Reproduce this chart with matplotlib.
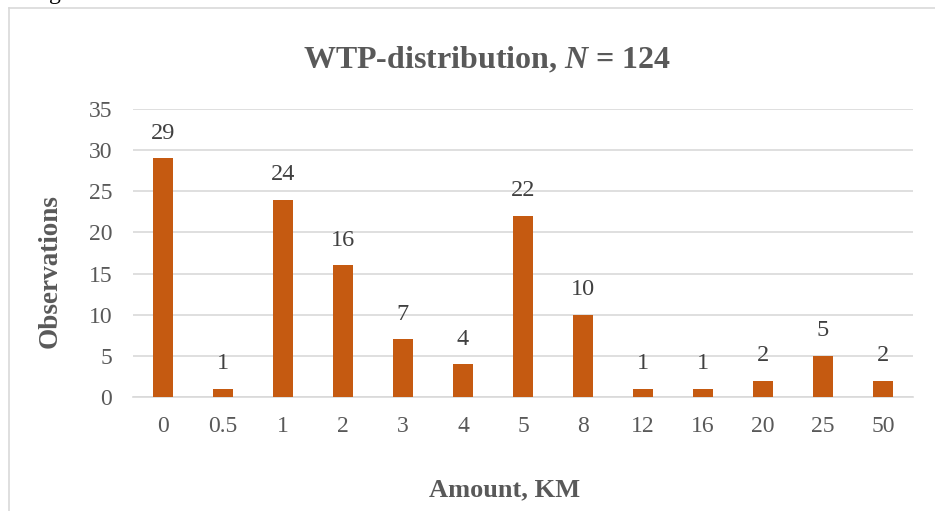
import matplotlib
matplotlib.use("Agg")
import matplotlib.pyplot as plt
from matplotlib.lines import Line2D

categories = ["0", "0.5", "1", "2", "3", "4", "5", "8", "12", "16", "20", "25", "50"]
observations = [29, 1, 24, 16, 7, 4, 22, 10, 1, 1, 2, 5, 2]
y_ticks = [0, 5, 10, 15, 20, 25, 30, 35]

plt.rcParams["font.family"] = ["Liberation Serif", "DejaVu Serif"]
plt.rcParams["mathtext.fontset"] = "custom"
plt.rcParams["mathtext.it"] = "Liberation Serif:italic:bold"
plt.rcParams["mathtext.rm"] = "Liberation Serif:bold"

W, H = 935, 511
fig = plt.figure(figsize=(W / 100, H / 100), dpi=100)
ax = fig.add_axes([133 / W, 1 - 397 / H, (913 - 133) / W, (397 - 109) / H])

bar_color = "#C55A11"
x = list(range(len(categories)))
bars = ax.bar(x, observations, width=0.32, color=bar_color, zorder=3)
for xi, v in zip(x, observations):
    ax.annotate(str(v), (xi, v), xytext=(0, 10.5), textcoords="offset points",
                ha="center", va="bottom", fontsize=17.5, color="#404040")

ax.set_xlim(-0.5, len(categories) - 0.5)
ax.set_ylim(0, 35)
ax.set_yticks(y_ticks)
ax.set_xticks(x)
ax.set_xticklabels(categories)
ax.tick_params(axis="both", length=0, labelsize=17, labelcolor="#595959")
ax.tick_params(axis="y", pad=15)
ax.tick_params(axis="x", pad=14)
ax.grid(axis="y", color="#D9D9D9", linewidth=1.2, zorder=0)
for s in ["top", "right", "left"]:
    ax.spines[s].set_visible(False)
ax.spines["bottom"].set_color("#D9D9D9")
ax.spines["bottom"].set_linewidth(1.2)

fig.text(487 / W, 1 - 60 / H, r"WTP-distribution, $N$ = 124", ha="center", va="center",
         fontsize=23, fontweight="bold", color="#595959")
fig.text(50 / W, 1 - 271 / H, "Observations", rotation=90, ha="center", va="center",
         fontsize=19.5, fontweight="bold", color="#595959")
fig.text(505 / W, 1 - 490 / H, "Amount, KM", ha="center", va="center",
         fontsize=19, fontweight="bold", color="#595959")

# chart frame
fig.add_artist(Line2D([9 / W, 9 / W], [0, 1 - 8 / H], transform=fig.transFigure,
                      color="#D9D9D9", linewidth=1.2))
fig.add_artist(Line2D([9 / W, 1], [1 - 8 / H, 1 - 8 / H], transform=fig.transFigure,
                      color="#D9D9D9", linewidth=1.2))
# cut-off caption above the frame (only the descender is visible)
fig.text(55 / W, 1 + 1 / H, "g", ha="center", va="baseline", fontsize=17, color="black")

fig.savefig("out.png", dpi=100)
